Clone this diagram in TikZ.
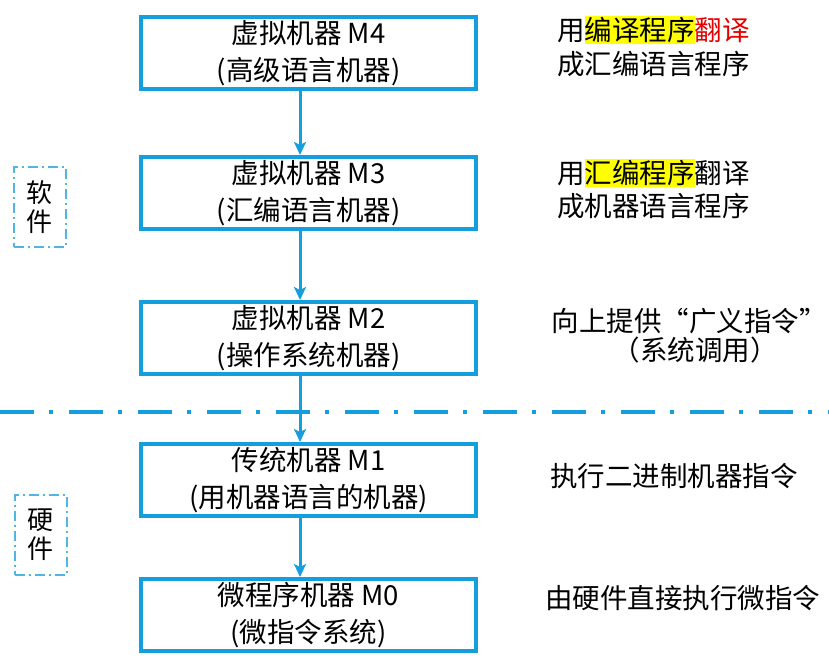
\documentclass[tikz,border=0pt]{standalone}
\usepackage{fontspec}
\setmainfont{Noto Sans CJK SC}
\usetikzlibrary{arrows.meta}
\definecolor{boxblue}{RGB}{20,158,222}
\definecolor{lightblue}{RGB}{80,182,225}
\definecolor{hlyellow}{RGB}{255,255,0}
\definecolor{txtred}{RGB}{230,0,0}
\newcommand\hlt[1]{{\setlength{\fboxsep}{0pt}\colorbox{hlyellow}{\rule[-0.1em]{0pt}{1.0em}#1}}}
\begin{document}
\begin{tikzpicture}[x=1pt,y=-1pt,
  machine/.style={draw=boxblue,line width=4pt,minimum width=335pt,minimum height=72pt,inner sep=0pt,align=center,font=\fontsize{27.5}{37}\selectfont},
  desc/.style={inner sep=0pt,anchor=west,font=\fontsize{27.5}{34}\selectfont,text height=0.88em,text depth=0.12em},
  descc/.style={desc,anchor=center},
  flow/.style={draw=boxblue,line width=3pt,-{Stealth[length=13pt,width=12pt,inset=3pt]}},
  sepline/.style={draw=boxblue,line width=4pt,dash pattern=on 34pt off 15pt on 4pt off 16pt},
  cat/.style={draw=lightblue,line width=2pt,dash pattern=on 10pt off 4pt on 2pt off 4pt,minimum width=52pt,minimum height=80pt,inner sep=0pt,align=center,font=\fontsize{26}{29}\selectfont}
]
\useasboundingbox (0,0) rectangle (829,661);
% machine boxes
\node[machine] (b1) at (308.5,53) {虚拟机器 M4\\(高级语言机器)};
\node[machine] (b2) at (308.5,193) {虚拟机器 M3\\(汇编语言机器)};
\node[machine] (b3) at (308.5,338) {虚拟机器 M2\\(操作系统机器)};
\node[machine] (b4) at (308.5,480) {传统机器 M1\\(用机器语言的机器)};
\node[machine] (b5) at (308.5,615) {微程序机器 M0\\(微指令系统)};
% separator
\coordinate (sl) at (0,412);
\coordinate (sr) at (829,412);
\draw[sepline] (sl) -- (sr);
% arrows
\draw[flow] ([xshift=-8.5pt]b1.south) -- ([xshift=-8.5pt]b2.north);
\draw[flow] ([xshift=-8.5pt]b2.south) -- ([xshift=-8.5pt]b3.north);
\draw[flow] ([xshift=-8.5pt]b3.south) -- ([xshift=-8.5pt]b4.north);
\draw[flow] ([xshift=-8.5pt]b4.south) -- ([xshift=-8.5pt]b5.north);
% category boxes
\node[cat] (soft) at (40,207) {软\\件};
\node[cat] (hard) at (40.5,535) {硬\\件};
% descriptions
\node[desc] (d1a) at (557,37) {用\hlt{编译程序}\textcolor{txtred}{翻译}};
\node[desc] (d1b) at (557,71) {成汇编语言程序};
\node[desc] (d2a) at (557,180) {用\hlt{汇编程序}翻译};
\node[desc] (d2b) at (557,213) {成机器语言程序};
\node[descc] (d3a) at (689,328) {向上提供“广义指令”};
\node[descc] (d3b) at (695,357) {（系统调用）};
\node[desc] (d4) at (550,483) {执行二进制机器指令};
\node[desc] (d5) at (545,605) {由硬件直接执行微指令};
\end{tikzpicture}
\end{document}
